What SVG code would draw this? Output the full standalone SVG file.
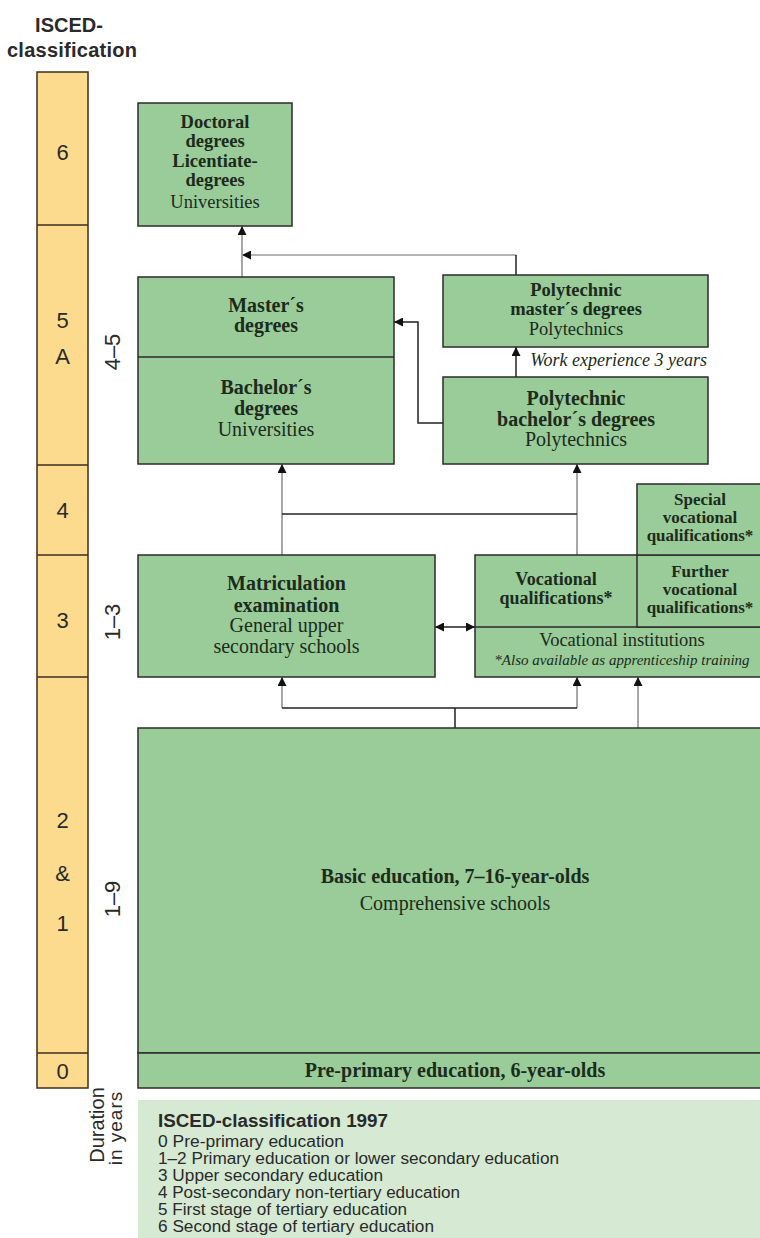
<svg xmlns="http://www.w3.org/2000/svg" width="760" height="1238" viewBox="0 0 760 1238">
<style>
.box{fill:#99cc99;stroke:#2b2b2b;stroke-width:1.5}
.ybox{fill:#fddb8e;stroke:#3b2f1f;stroke-width:1.5}
.t{font-family:"Liberation Serif","Times New Roman",serif;font-size:20px;fill:#1c2b1c;text-anchor:middle}
.b{font-weight:bold}
.it{font-style:italic}
.sm{font-size:17px}
.md{font-size:18.5px}
.num{font-family:"Liberation Sans",Arial,sans-serif;font-size:22px;fill:#2a2a2a;text-anchor:middle}
.hdr{font-family:"Liberation Sans",Arial,sans-serif;font-size:20px;font-weight:bold;fill:#2a2a2a;text-anchor:middle}
.lgt{font-family:"Liberation Sans",Arial,sans-serif;font-size:16px;fill:#2a2a2a}
.dk{stroke:#222;stroke-width:1.5;fill:none}
.gr{stroke:#8a8a8a;stroke-width:1.5;fill:none}
.lgr{stroke:#b4b4b4;stroke-width:2;fill:none}
.arr{marker-end:url(#ah)}
</style>
<defs>
<marker id="ah" markerWidth="9" markerHeight="9" refX="9" refY="4.5" orient="auto-start-reverse" markerUnits="userSpaceOnUse">
<path d="M0,0 L9,4.5 L0,9 z" fill="#111"/>
</marker>
</defs>
<rect width="760" height="1238" fill="#fff"/>

<g id="header">
<text class="hdr" x="69" y="32">ISCED-</text>
<text class="hdr" x="72" y="57" textLength="130">classification</text>
</g>

<g id="isced-column">
<rect class="ybox" x="37" y="72" width="51" height="1016"/>
<path d="M37,225H88M37,465H88M37,555H88M37,677H88M37,1053H88" stroke="#3b2f1f" stroke-width="1.5"/>
<text class="num" x="62.5" y="160">6</text>
<text class="num" x="62.5" y="328">5</text>
<text class="num" x="62.5" y="364">A</text>
<text class="num" x="62.5" y="518">4</text>
<text class="num" x="62.5" y="628">3</text>
<text class="num" x="62.5" y="828">2</text>
<text class="num" x="62.5" y="881">&amp;</text>
<text class="num" x="62.5" y="931">1</text>
<text class="num" x="62.5" y="1079">0</text>
</g>

<g id="durations">
<text class="num" transform="translate(120,352) rotate(-90)">4–5</text>
<text class="num" transform="translate(120,622) rotate(-90)">1–3</text>
<text class="num" transform="translate(120,899) rotate(-90)">1–9</text>
<text class="num" transform="translate(104,1125) rotate(-90)" style="font-size:20px">Duration</text>
<text class="num" transform="translate(122,1128) rotate(-90)" style="font-size:19px;letter-spacing:1px">in years</text>
</g>

<g id="connectors">
<path class="gr arr" d="M242,277V226"/>
<path class="lgr arr" d="M516,255H242"/>
<path class="dk" d="M516,255V275"/>
<path class="dk arr" d="M516,377V347"/>
<path class="dk arr" d="M443,423H418V322H394"/>
<path class="gr arr" d="M282,555V464"/>
<path class="gr arr" d="M577,555V464"/>
<path class="dk" d="M282,514H577"/>
<path class="dk" d="M435,627H475" marker-start="url(#ah)" marker-end="url(#ah)"/>
<path class="gr arr" d="M282,708V677"/>
<path class="gr arr" d="M577,708V677"/>
<path class="dk" d="M282,708H577M455,708V728"/>
<path class="gr arr" d="M638,728V677"/>
</g>

<g id="doctoral">
<rect class="box" x="138" y="103" width="154" height="123"/>
<text class="t b md" x="215" y="128">Doctoral</text>
<text class="t b md" x="215" y="147">degrees</text>
<text class="t b md" x="215" y="167">Licentiate-</text>
<text class="t b md" x="215" y="186">degrees</text>
<text class="t md" x="215" y="208">Universities</text>
</g>

<g id="university">
<rect class="box" x="138" y="277" width="256" height="187"/>
<path d="M138,357H394" stroke="#2b2b2b" stroke-width="1.5"/>
<text class="t b" x="266" y="312">Master´s</text>
<text class="t b" x="266" y="332">degrees</text>
<text class="t b" x="266" y="394">Bachelor´s</text>
<text class="t b" x="266" y="415">degrees</text>
<text class="t" x="266" y="436">Universities</text>
</g>

<g id="poly-master">
<rect class="box" x="443" y="275" width="265" height="72"/>
<text class="t b md" x="576" y="296">Polytechnic</text>
<text class="t b md" x="576" y="315">master´s degrees</text>
<text class="t md" x="576" y="335">Polytechnics</text>
</g>

<g id="work-experience">
<text class="t it" x="707" y="366" style="font-size:18px;text-anchor:end">Work experience 3 years</text>
</g>

<g id="poly-bachelor">
<rect class="box" x="443" y="377" width="265" height="87"/>
<text class="t b" x="576" y="405">Polytechnic</text>
<text class="t b" x="576" y="426">bachelor´s degrees</text>
<text class="t" x="576" y="446">Polytechnics</text>
</g>

<g id="matriculation">
<rect class="box" x="138" y="555" width="297" height="122"/>
<text class="t b" x="286.5" y="590">Matriculation</text>
<text class="t b" x="286.5" y="612">examination</text>
<text class="t" x="286.5" y="632">General upper</text>
<text class="t" x="286.5" y="653">secondary schools</text>
</g>

<g id="vocational">
<rect class="box" x="475" y="555" width="295" height="122"/>
<path d="M475,627H770" stroke="#2b2b2b" stroke-width="1.5"/>
<text class="t b" x="556" y="585" style="font-size:18px">Vocational</text>
<text class="t b" x="556" y="604" style="font-size:18px">qualifications*</text>
<text class="t" x="622" y="646" style="font-size:18.5px">Vocational institutions</text>
<text class="t it" x="622" y="665" style="font-size:15px">*Also available as apprenticeship training</text>
</g>

<g id="further-vocational">
<rect class="box" x="637" y="555" width="133" height="72"/>
<text class="t b sm" x="700" y="577">Further</text>
<text class="t b sm" x="700" y="595">vocational</text>
<text class="t b sm" x="700" y="613">qualifications*</text>
</g>

<g id="special-vocational">
<rect class="box" x="637" y="484" width="133" height="71"/>
<text class="t b sm" x="700" y="505">Special</text>
<text class="t b sm" x="700" y="523">vocational</text>
<text class="t b sm" x="700" y="541">qualifications*</text>
</g>

<g id="basic">
<rect class="box" x="138" y="728" width="632" height="325"/>
<text class="t b" x="455" y="883">Basic education, 7–16-year-olds</text>
<text class="t" x="455" y="910">Comprehensive schools</text>
</g>

<g id="pre-primary">
<rect class="box" x="138" y="1053" width="632" height="35"/>
<text class="t b" x="455" y="1077">Pre-primary education, 6-year-olds</text>
</g>

<g id="legend">
<rect x="138" y="1100" width="632" height="140" fill="#d5e9d3"/>
<text class="lgt" x="158" y="1127" style="font-size:18px;font-weight:bold" textLength="230" lengthAdjust="spacingAndGlyphs">ISCED-classification 1997</text>
<text class="lgt" x="158" y="1147" textLength="186" lengthAdjust="spacingAndGlyphs">0  Pre-primary education</text>
<text class="lgt" x="158" y="1164" textLength="401" lengthAdjust="spacingAndGlyphs">1–2 Primary education or lower secondary education</text>
<text class="lgt" x="158" y="1181" textLength="225" lengthAdjust="spacingAndGlyphs">3 Upper secondary education</text>
<text class="lgt" x="158" y="1198" textLength="302" lengthAdjust="spacingAndGlyphs">4 Post-secondary non-tertiary education</text>
<text class="lgt" x="158" y="1215" textLength="249" lengthAdjust="spacingAndGlyphs">5 First stage of tertiary education</text>
<text class="lgt" x="158" y="1232" textLength="276" lengthAdjust="spacingAndGlyphs">6 Second stage of tertiary education</text>
</g>
</svg>
